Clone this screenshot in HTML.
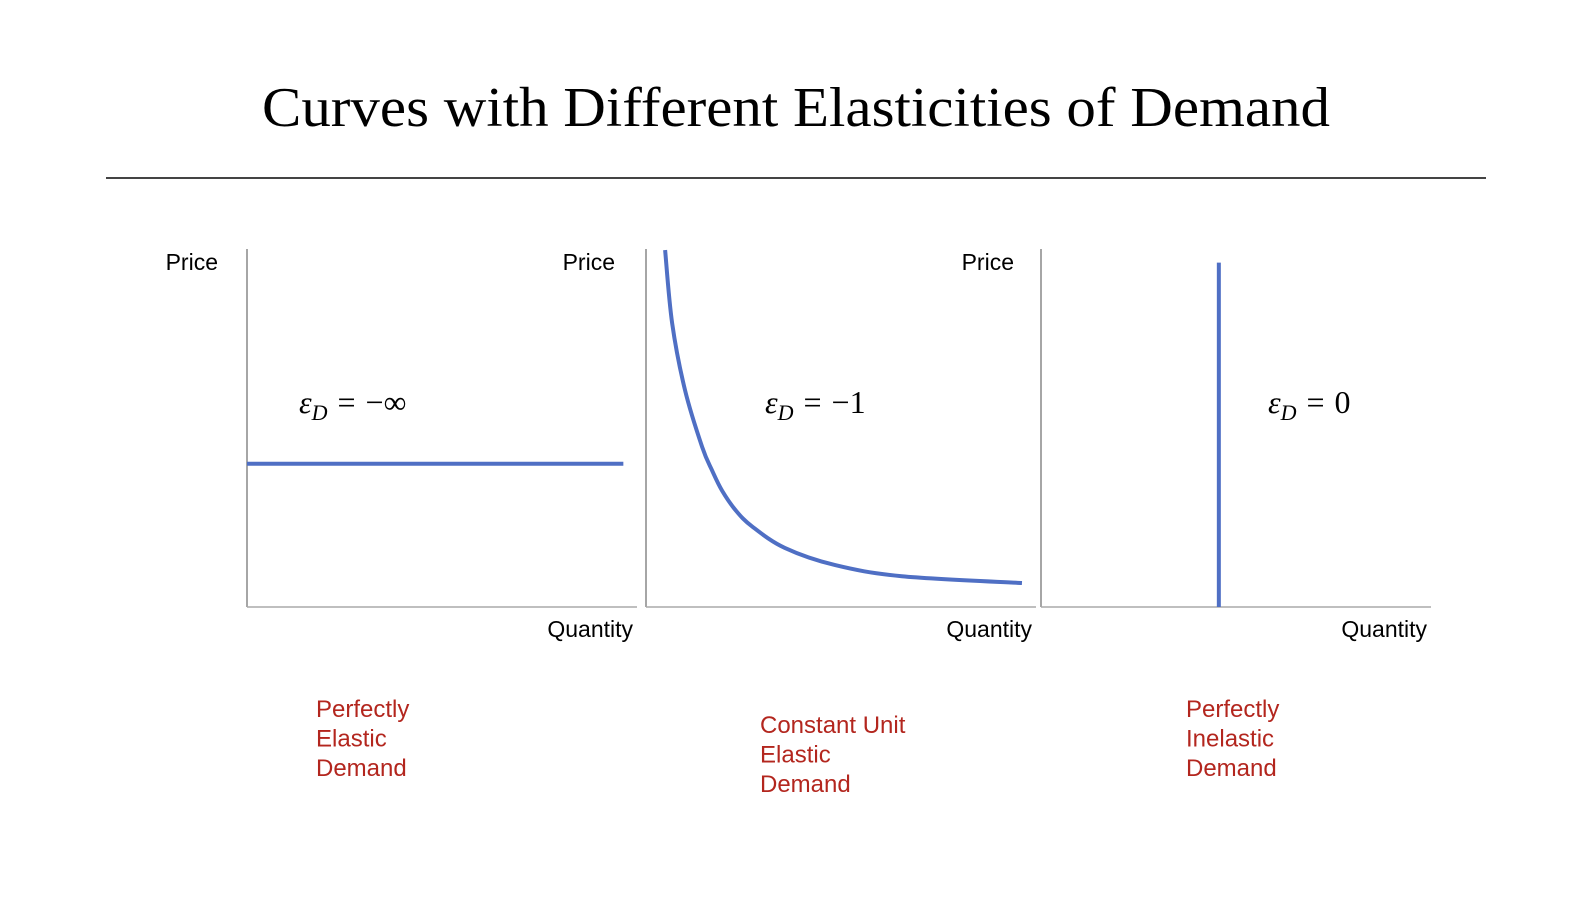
<!DOCTYPE html>
<html><head><meta charset="utf-8"><style>
html,body{margin:0;padding:0;background:#fff;}
svg{display:block;}
.lbl{font-family:"Liberation Sans",sans-serif;font-size:23px;fill:#000;}
.red{font-family:"Liberation Sans",sans-serif;font-size:24px;fill:#b3261e;}
.eq{font-family:"Liberation Serif",serif;font-size:32px;fill:#000;}
</style></head><body>
<svg id="s" width="1594" height="898" viewBox="0 0 1594 898" xmlns="http://www.w3.org/2000/svg">
<text x="796" y="126" text-anchor="middle" textLength="1068" lengthAdjust="spacingAndGlyphs" style="font-family:'Liberation Serif',serif;font-size:56px;">Curves with Different Elasticities of Demand</text>
<line x1="106" y1="178" x2="1486" y2="178" stroke="#444" stroke-width="2"/>
<g id="charts"></g>
</svg>
<script>
// panel 1: perfectly elastic (horizontal)
const elasticPrice = [4.0];
const elasticQRange = [0, 9.65];
// panel 2: unit elastic curve
const unitQ = [0.49, 0.67, 1.0, 1.44, 1.7, 1.95, 2.3, 2.72, 3.56, 4.85, 6.56, 9.64];
const unitP = [9.97, 7.93, 6.06, 4.47, 3.8, 3.25, 2.7, 2.25, 1.65, 1.17, 0.86, 0.67];
// panel 3: perfectly inelastic (vertical)
const inelasticQ = [4.56];
const inelasticPRange = [0, 9.62];

const panelsX = [247, 646, 1041];
const axisTop = 249, axisBottom = 607, axisLen = 390;
const NS = "http://www.w3.org/2000/svg";
const g = document.getElementById('charts');
function xs(px0, q){ return px0 + q * 39; }
function ys(p){ return axisBottom - p * 35.8; }
function mk(tag, attrs, parent){ const e = document.createElementNS(NS, tag); for (const k in attrs) e.setAttribute(k, attrs[k]); (parent||g).appendChild(e); return e; }

panelsX.forEach((x0, i) => {
  const ya = mk('line', {x1:x0, y1:axisTop, x2:x0, y2:axisBottom, stroke:'#777', 'stroke-width':1.3});
  
  
  const xa = mk('line', {x1:x0, y1:axisBottom, x2:x0+axisLen, y2:axisBottom, stroke:'#aaa', 'stroke-width':1.5});
  
  
  const qt = mk('text', {x:x0+axisLen-4, y:637, 'text-anchor':'end', class:'lbl'});
  qt.textContent = 'Quantity';
  
  
});
[[218,1],[615,2],[1014,3]].forEach(([x, n]) => {
  const t = mk('text', {x:x, y:270, 'text-anchor':'end', class:'lbl'});
  t.textContent = 'Price';
  
  
});

// panel 1 line
const h = mk('line', {x1:xs(panelsX[0], elasticQRange[0]), y1:ys(elasticPrice[0]), x2:xs(panelsX[0], elasticQRange[1]), y2:ys(elasticPrice[0]), stroke:'#4f6fc4', 'stroke-width':4});



// panel 2 curve (Catmull-Rom)
const pts = unitQ.map((q, i) => [xs(panelsX[1], q), ys(unitP[i])]);
let d = 'M' + pts[0][0] + ',' + pts[0][1];
for (let i = 0; i < pts.length - 1; i++) {
  const p0 = pts[Math.max(0, i-1)], p1 = pts[i], p2 = pts[i+1], p3 = pts[Math.min(pts.length-1, i+2)];
  const c1 = [p1[0] + (p2[0]-p0[0])/6, p1[1] + (p2[1]-p0[1])/6];
  const c2 = [p2[0] - (p3[0]-p1[0])/6, p2[1] - (p3[1]-p1[1])/6];
  d += ' C' + c1.join(',') + ' ' + c2.join(',') + ' ' + p2.join(',');
}
const c = mk('path', {d:d, fill:'none', stroke:'#4f6fc4', 'stroke-width':4});



// panel 3 line
const v = mk('line', {x1:xs(panelsX[2], inelasticQ[0]), y1:ys(inelasticPRange[1]), x2:xs(panelsX[2], inelasticQ[0]), y2:ys(inelasticPRange[0]), stroke:'#4f6fc4', 'stroke-width':4});



// elasticity labels
[[299,'−∞',1],[765,'−1',2],[1268,'0',3]].forEach(([x, val, n]) => {
  const t = mk('text', {x:x, y:413, class:'eq'});
  t.innerHTML = '<tspan font-style="italic">ε</tspan><tspan font-style="italic" font-size="22" dy="7">D</tspan><tspan dy="-7" dx="10">=</tspan><tspan dx="10">' + val + '</tspan>';
  
  
});

// captions
[[316,717,['Perfectly','Elastic','Demand'],'caption-perfectly-elastic'],
 [760,733,['Constant Unit','Elastic','Demand'],'caption-unit-elastic'],
 [1186,717,['Perfectly','Inelastic','Demand'],'caption-perfectly-inelastic']].forEach(([x, y, lines, name]) => {
  const t = mk('text', {x:x, y:y, class:'red'});
  
  
  lines.forEach((s, i) => { const ts = mk('tspan', {x:x, y:y + i*29.6}, t); ts.textContent = s; });
});
</script>
</body></html>
